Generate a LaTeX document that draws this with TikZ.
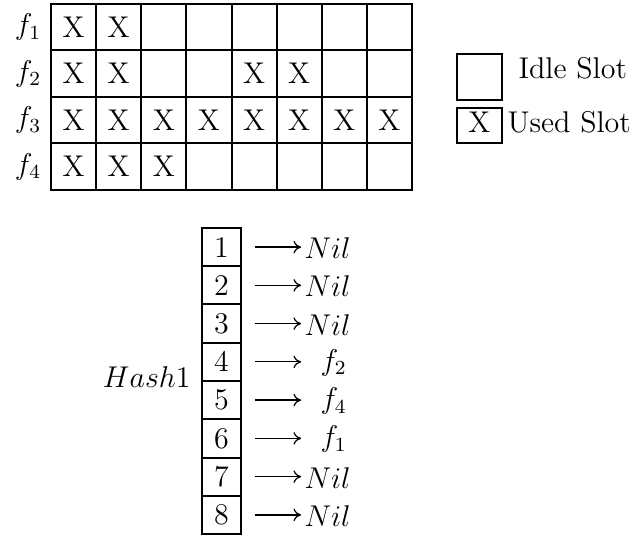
\documentclass[tikz,border=0pt]{standalone}
\usetikzlibrary{arrows.meta}
\begin{document}
\begin{tikzpicture}[x=0.4pt,y=-0.4pt,font=\large,
  cell/.style={draw,line width=0.8pt,inner sep=0pt,outer sep=0pt,minimum width=18.05pt,minimum height=18.6pt},
  hcell/.style={draw,line width=0.8pt,inner sep=0pt,outer sep=0pt,minimum width=15.6pt,minimum height=15.3pt},
  arr/.style={-{Computer Modern Rightarrow[length=3pt,width=5pt]},line width=0.5pt}]
\useasboundingbox (0,0) rectangle (639,538);
% grid
\foreach \r in {1,...,4}{
  \foreach \c in {1,...,8}{
    \node[cell] (c-\r-\c) at ({51+45.125*(\c-0.5)},{4+46.5*(\r-0.5)}) {};
  }
  \node (f\r) at (28,{4+46.5*(\r-0.5)}) {$f_{\r}$};
}
\foreach \r/\c in {1/1,1/2,2/1,2/2,2/5,2/6,3/1,3/2,3/3,3/4,3/5,3/6,3/7,3/8,4/1,4/2,4/3}{
  \node (x-\r-\c) at (c-\r-\c) {X};
}
% legend
\node[cell,minimum height=18.4pt] (idle) at (479.5,77) {};
\node[anchor=base west,inner sep=0pt] (idletxt) at (518,79) {Idle Slot};
\node[draw,line width=0.8pt,inner sep=0pt,minimum width=18pt,minimum height=14pt] (used) at (479.5,125.5) {};
\node[anchor=base,inner sep=0pt] (usedx) at (479.5,133) {X};
\node[anchor=base west,inner sep=0pt] (usedtxt) at (507,133) {Used Slot};
% hash table
\node[anchor=base east,inner sep=0pt] (hash) at (191,388) {$Hash1$};
\foreach \i/\t/\dx in {1/Nil/4,2/Nil/4,3/Nil/4,4/f_2/20,5/f_4/20,6/f_1/20,7/Nil/4,8/Nil/4}{
  \node[hcell] (h\i) at (221.5,{228+38.25*(\i-0.5)}) {\i};
  \coordinate (e\i) at (301,{228+38.25*(\i-0.5)});
  \node[anchor=west,inner sep=0pt] (t\i) at ({300+\dx},{228+38.25*(\i-0.5)+1}) {$\t$};
  \draw[arr,shorten <=5.6pt] (h\i.east) -- (e\i);
}
\end{tikzpicture}
\end{document}
